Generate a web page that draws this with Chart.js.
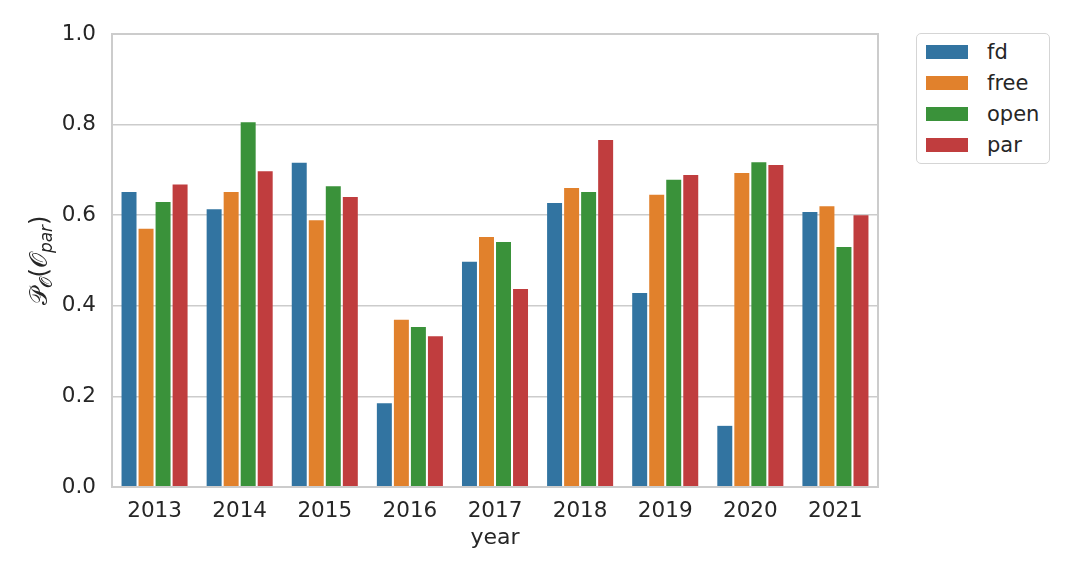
<!DOCTYPE html>
<html>
<head>
<meta charset="utf-8">
<script src="https://cdn.jsdelivr.net/npm/chart.js@4.4.1/dist/chart.umd.min.js"></script>
<style>
    html, body { margin: 0; padding: 0; background: #fff; }
    #wrap { position: relative; width: 1080px; height: 576px; font-family: 'DejaVu Sans', sans-serif; }
    #legend {
        position: absolute; left: 916px; top: 33px; width: 134px; height: 131px;
        box-sizing: border-box; border: 1.5px solid #d5d5d5; border-radius: 5px; background: #fff;
    }
    .leg-row { position: absolute; left: 9px; height: 20px; display: flex; align-items: center; }
    .leg-sw { width: 42px; height: 14px; margin-right: 19px; }
    .leg-txt { font-size: 21px; color: #262626; line-height: 20px; }
</style>
</head>
<body>
<div id="wrap">
    <canvas id="chart" width="1080" height="576"></canvas>
    <div id="legend"></div>
</div>
<script>
// Per-year share per method.
const YEARS = ['2013', '2014', '2015', '2016', '2017', '2018', '2019', '2020', '2021'];
const FD   = [0.651, 0.613, 0.716, 0.185, 0.497, 0.627, 0.428, 0.135, 0.607];
const FREE = [0.570, 0.651, 0.589, 0.369, 0.552, 0.660, 0.645, 0.693, 0.620];
const OPEN = [0.629, 0.805, 0.664, 0.353, 0.541, 0.651, 0.678, 0.717, 0.530];
const PAR  = [0.668, 0.697, 0.640, 0.333, 0.437, 0.766, 0.689, 0.711, 0.600];
const Y_TICKS = [0.0, 0.2, 0.4, 0.6, 0.8, 1.0];

const SERIES = [
    { label: 'fd',   data: FD,   color: '#3274a1' },
    { label: 'free', data: FREE, color: '#e1812c' },
    { label: 'open', data: OPEN, color: '#3a923a' },
    { label: 'par',  data: PAR,  color: '#c03d3e' },
];

const FONT = "'DejaVu Sans', sans-serif";
const TEXT = '#262626';
const GRID = '#cccccc';

// frame round the plot area (matplotlib-style spines)
const framePlugin = {
    id: 'frame',
    afterDatasetsDraw(chart) {
        const { ctx, chartArea: a } = chart;
        ctx.save();
        ctx.strokeStyle = GRID;
        ctx.lineWidth = 2;
        ctx.strokeRect(a.left, a.top, a.right - a.left, a.bottom - a.top);
        ctx.restore();
    },
};

// rotated y label with subscripts: P_O(O_par)
const yTitlePlugin = {
    id: 'ytitle',
    afterDraw(chart) {
        const { ctx, chartArea: a } = chart;
        const parts = [
            { t: '\u{1D4AB}', size: 24, dy: 0 },
            { t: '\u{1D4AA}', size: 17, dy: 5 },
            { t: '(', size: 24, dy: 0 },
            { t: '\u{1D4AA}', size: 24, dy: 0 },
            { t: 'par', size: 17, dy: 5, italic: true },
            { t: ')', size: 24, dy: 0 },
        ];
        ctx.save();
        ctx.fillStyle = TEXT;
        ctx.textBaseline = 'alphabetic';
        const fontOf = p => `${p.italic ? 'italic ' : ''}${p.size}px ${FONT}`;
        let total = 0;
        parts.forEach(p => { ctx.font = fontOf(p); total += ctx.measureText(p.t).width; });
        ctx.translate(47, (a.top + a.bottom) / 2);
        ctx.rotate(-Math.PI / 2);
        let x = -total / 2;
        parts.forEach(p => {
            ctx.font = fontOf(p);
            ctx.fillText(p.t, x, p.dy);
            x += ctx.measureText(p.t).width;
        });
        ctx.restore();
    },
};

new Chart(document.getElementById('chart'), {
    type: 'bar',
    data: {
        labels: YEARS,
        datasets: SERIES.map(s => ({
            label: s.label,
            data: s.data,
            backgroundColor: s.color,
            borderWidth: 0,
            categoryPercentage: 0.8,
            barPercentage: 0.88,
        })),
    },
    options: {
        responsive: false,
        animation: false,
        devicePixelRatio: 1,
        layout: { padding: { top: 34, right: 202, left: 0, bottom: 0 } },
        plugins: { legend: { display: false }, tooltip: { enabled: false } },
        scales: {
            x: {
                grid: { display: false, drawTicks: false, tickLength: 0 },
                border: { display: false },
                ticks: { color: TEXT, font: { family: FONT, size: 21.5 }, padding: 12, maxRotation: 0 },
                title: { display: true, text: 'year', color: TEXT, font: { family: FONT, size: 22 },
                         padding: { top: 0, bottom: 25 } },
                afterFit(scale) { scale.height = 89; },
            },
            y: {
                min: 0, max: 1,
                afterBuildTicks(scale) { scale.ticks = Y_TICKS.map(v => ({ value: v })); },
                grid: { color: GRID, lineWidth: 1.6, drawTicks: false, tickLength: 0 },
                border: { display: false },
                ticks: { color: TEXT, font: { family: FONT, size: 21.5 }, padding: 16,
                         callback: v => Number(v).toFixed(1) },
                afterFit(scale) { scale.width = 112; },
            },
        },
    },
    plugins: [framePlugin, yTitlePlugin],
});

// legend box outside the axes, upper right
const legend = document.getElementById('legend');
SERIES.forEach((s, i) => {
    const row = document.createElement('div');
    row.className = 'leg-row';
    row.style.top = (8 + i * 31) + 'px';
    row.innerHTML = `<div class="leg-sw" style="background:${s.color}"></div><div class="leg-txt">${s.label}</div>`;
    legend.appendChild(row);
});
</script>
</body>
</html>
